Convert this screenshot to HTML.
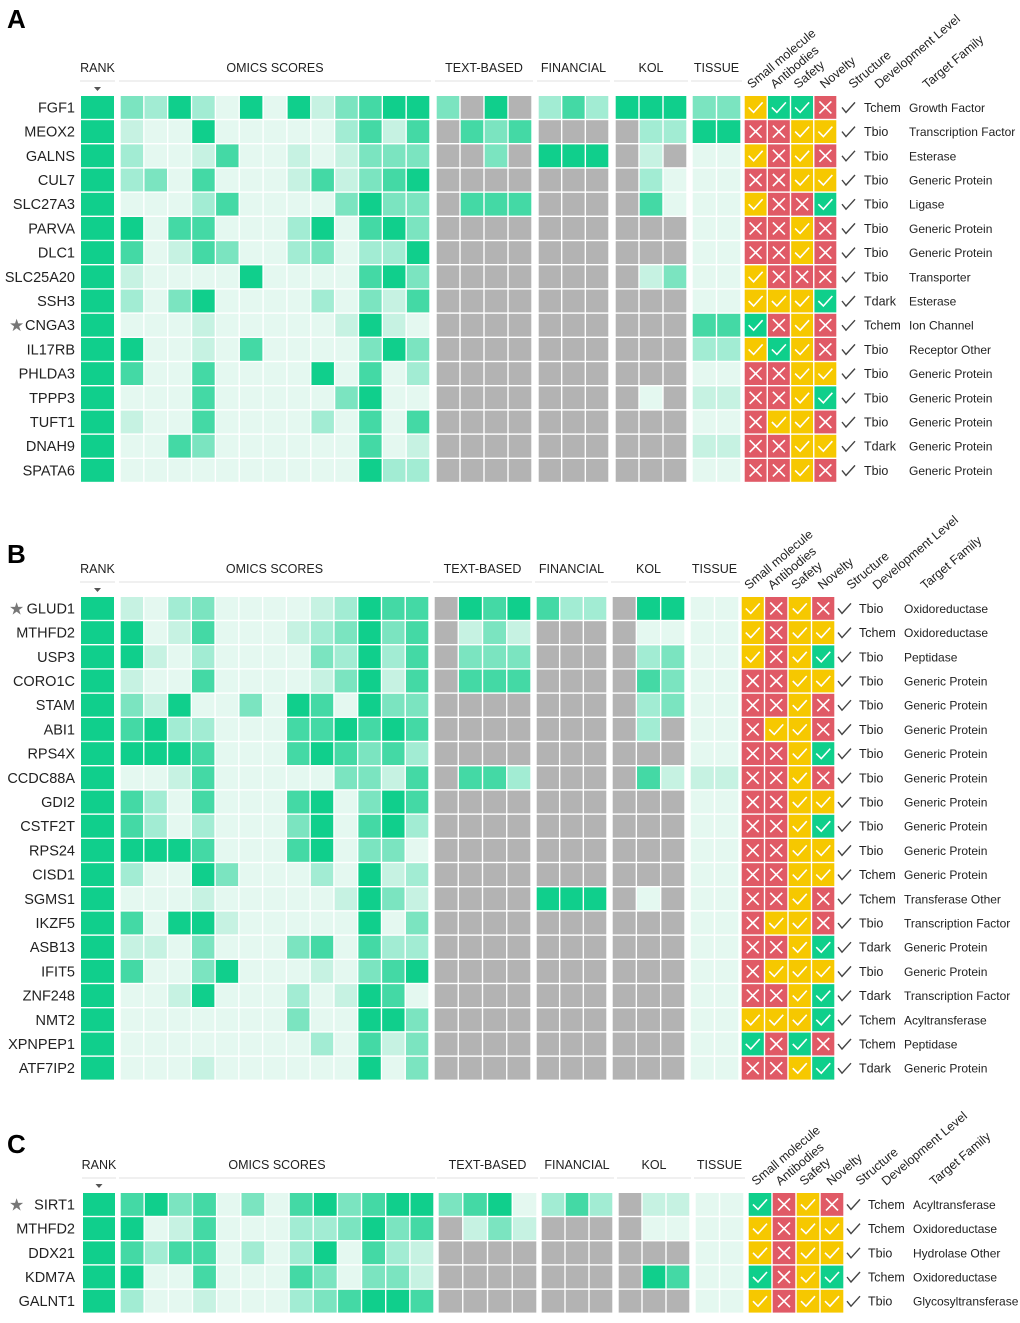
<!DOCTYPE html>
<html><head><meta charset="utf-8">
<style>
html,body{margin:0;padding:0;background:#fff;}
svg{display:block;font-family:"Liberation Sans",sans-serif;}
</style></head>
<body>
<svg id="chart" width="1020" height="1323" viewBox="0 0 1020 1323" xmlns="http://www.w3.org/2000/svg"></svg>
<script>
// ---------- Panel A data ----------
const genesA = ["FGF1","MEOX2","GALNS","CUL7","SLC27A3","PARVA","DLC1","SLC25A20","SSH3","CNGA3","IL17RB","PHLDA3","TPPP3","TUFT1","DNAH9","SPATA6"];
const starA = [9];
const rankA = [5,5,5,5,5,5,5,5,5,5,5,5,5,5,5,5];
const omicsA = [
[3,2,5,2,0,5,0,5,1,3,4,5,5],[1,0,0,5,0,0,0,0,0,2,4,1,4],[2,0,0,1,4,0,0,1,0,1,3,3,3],[2,3,0,4,0,0,0,1,4,1,3,4,5],
[0,0,0,2,4,0,0,0,0,3,5,3,3],[5,0,4,4,0,0,0,2,5,0,4,5,3],[4,0,1,4,3,0,0,2,3,0,2,2,5],[1,0,0,0,0,5,0,0,0,0,4,5,3],
[2,0,3,5,0,0,0,0,2,0,3,1,4],[0,0,0,1,0,0,0,0,0,1,5,1,0],[5,0,0,1,0,4,0,0,0,0,3,5,3],[4,0,0,4,0,0,0,0,5,0,4,0,2],
[0,0,0,4,0,0,0,0,0,3,5,0,0],[1,0,0,4,0,0,0,0,2,0,4,0,4],[0,0,4,3,0,0,0,0,0,0,4,0,1],[0,0,0,0,0,0,0,0,0,0,5,2,2]];
const textA = [[3,-1,5,-1],[-1,4,3,4],[-1,-1,3,-1],[-1,-1,-1,-1],[-1,4,4,4],[-1,-1,-1,-1],[-1,-1,-1,-1],[-1,-1,-1,-1],[-1,-1,-1,-1],[-1,-1,-1,-1],[-1,-1,-1,-1],[-1,-1,-1,-1],[-1,-1,-1,-1],[-1,-1,-1,-1],[-1,-1,-1,-1],[-1,-1,-1,-1]];
const finA = [[2,4,2],[-1,-1,-1],[5,5,5],[-1,-1,-1],[-1,-1,-1],[-1,-1,-1],[-1,-1,-1],[-1,-1,-1],[-1,-1,-1],[-1,-1,-1],[-1,-1,-1],[-1,-1,-1],[-1,-1,-1],[-1,-1,-1],[-1,-1,-1],[-1,-1,-1]];
const kolA = [[5,5,5],[-1,2,2],[-1,1,-1],[-1,2,0],[-1,4,0],[-1,-1,-1],[-1,-1,-1],[-1,1,3],[-1,-1,-1],[-1,-1,-1],[-1,-1,-1],[-1,-1,-1],[-1,0,-1],[-1,-1,-1],[-1,-1,-1],[-1,-1,-1]];
const tisA = [[3,3],[5,5],[0,0],[0,0],[0,0],[0,0],[0,0],[0,0],[0,0],[4,4],[2,2],[0,0],[1,1],[0,0],[1,1],[0,0]];
const flagsA = ["yggr","rryy","yryr","rryy","yrrg","rryr","rryr","yrrr","yyyg","gryr","ygyr","rryy","rryg","ryyr","rryy","rryr"];
const tierA = ["Tchem","Tbio","Tbio","Tbio","Tbio","Tbio","Tbio","Tbio","Tdark","Tchem","Tbio","Tbio","Tbio","Tbio","Tdark","Tbio"];
const famA = ["Growth Factor","Transcription Factor","Esterase","Generic Protein","Ligase","Generic Protein","Generic Protein","Transporter","Esterase","Ion Channel","Receptor Other","Generic Protein","Generic Protein","Generic Protein","Generic Protein","Generic Protein"];

// ---------- Panel B data ----------
const genesB = ["GLUD1","MTHFD2","USP3","CORO1C","STAM","ABI1","RPS4X","CCDC88A","GDI2","CSTF2T","RPS24","CISD1","SGMS1","IKZF5","ASB13","IFIT5","ZNF248","NMT2","XPNPEP1","ATF7IP2"];
const starB = [0];
const rankB = [5,5,5,5,5,5,5,5,5,5,5,5,5,5,5,5,5,5,5,5];
const omicsB = [
[1,0,2,3,0,0,0,0,1,2,5,4,4],[5,0,1,4,0,0,0,1,2,3,5,3,4],[5,1,0,2,0,0,0,0,3,2,5,2,4],[1,0,0,4,0,0,0,0,1,3,5,1,4],
[3,1,5,0,0,3,0,5,4,0,5,3,3],[4,5,2,2,0,0,0,4,4,5,4,5,4],[5,5,5,4,0,0,0,4,5,4,3,4,2],[0,0,1,4,0,0,0,0,0,3,3,1,4],
[4,2,0,4,0,0,0,4,5,0,3,5,4],[4,2,0,2,0,0,0,3,5,0,4,5,2],[5,5,5,4,0,0,0,4,5,0,3,3,0],[2,0,0,5,3,0,0,0,2,0,5,1,2],
[0,0,0,1,0,0,0,0,0,1,5,3,1],[4,0,5,5,1,0,0,0,0,0,5,0,3],[1,1,0,3,0,0,0,3,4,0,4,2,2],[4,0,0,3,5,0,0,0,1,0,3,4,5],
[0,0,1,5,0,0,0,2,0,1,5,4,0],[0,0,0,0,0,0,0,3,0,0,5,5,3],[0,0,0,0,0,0,0,0,2,0,4,1,3],[0,0,0,1,0,0,0,0,0,0,5,0,3]];
const G4 = [-1,-1,-1,-1], G3 = [-1,-1,-1];
const textB = [[-1,5,4,5],[-1,1,3,1],[-1,3,3,3],[-1,4,4,4],G4,G4,G4,[-1,4,4,2],G4,G4,G4,G4,G4,G4,G4,G4,G4,G4,G4,G4];
const finB = [[4,2,2],G3,G3,G3,G3,G3,G3,G3,G3,G3,G3,G3,[5,5,5],G3,G3,G3,G3,G3,G3,G3];
const kolB = [[-1,5,5],[-1,0,0],[-1,2,3],[-1,4,3],[-1,2,3],[-1,2,-1],G3,[-1,4,1],G3,G3,G3,G3,[-1,0,-1],G3,G3,G3,G3,G3,G3,G3];
const tisB = [[0,0],[0,0],[0,0],[0,0],[0,0],[0,0],[0,0],[1,1],[0,0],[0,0],[0,0],[0,0],[0,0],[0,0],[0,0],[0,0],[0,0],[0,0],[0,0],[0,0]];
const flagsB = ["yryr","yryy","yryg","rryy","rryr","ryyr","rryg","rryr","rryy","rryg","rryy","rryy","rryr","ryyr","rryg","ryyy","rryg","yyyg","grgr","rryg"];
const tierB = ["Tbio","Tchem","Tbio","Tbio","Tbio","Tbio","Tbio","Tbio","Tbio","Tbio","Tbio","Tchem","Tchem","Tbio","Tdark","Tbio","Tdark","Tchem","Tchem","Tdark"];
const famB = ["Oxidoreductase","Oxidoreductase","Peptidase","Generic Protein","Generic Protein","Generic Protein","Generic Protein","Generic Protein","Generic Protein","Generic Protein","Generic Protein","Generic Protein","Transferase Other","Transcription Factor","Generic Protein","Generic Protein","Transcription Factor","Acyltransferase","Peptidase","Generic Protein"];

// ---------- Panel C data ----------
const genesC = ["SIRT1","MTHFD2","DDX21","KDM7A","GALNT1"];
const starC = [0];
const rankC = [5,5,5,5,5];
const omicsC = [[4,5,3,4,0,3,0,4,5,3,4,5,5],[5,0,1,4,0,0,0,2,2,3,5,3,4],[4,2,4,4,0,2,0,2,5,0,4,2,1],[5,0,0,4,0,0,0,4,3,0,3,3,1],[2,0,0,1,0,0,0,2,3,4,5,5,4]];
const textC = [[3,4,5,0],[-1,1,3,1],G4,G4,G4];
const finC = [[2,4,2],G3,G3,G3,G3];
const kolC = [[-1,1,1],[-1,0,0],G3,[-1,5,4],G3];
const tisC = [[0,0],[0,0],[0,0],[0,0],[0,0]];
const flagsC = ["gryr","yryy","yryy","gryg","yryy"];
const tierC = ["Tchem","Tchem","Tbio","Tchem","Tbio"];
const famC = ["Acyltransferase","Oxidoreductase","Hydrolase Other","Oxidoreductase","Glycosyltransferase"];

const headerLabels = ["RANK","OMICS SCORES","TEXT-BASED","FINANCIAL","KOL","TISSUE"];
const rotLabels = ["Small molecule","Antibodies","Safety","Novelty","Structure","Development Level","Target Family"];

// ---------- rendering ----------
const NS = "http://www.w3.org/2000/svg";
const svg = document.getElementById("chart");
const LEVEL = ["#e4f8f0","#c6f2e2","#a2ecd3","#7be4c0","#44d9a5","#10cf8c"];
const GRAY = "#b3b3b3";
const FLAGC = {y:"#f6c800", r:"#e05a66", g:"#0fcf8b"};
function mk(tag, attrs, parent){ const e=document.createElementNS(NS,tag); for(const k in attrs) e.setAttribute(k,attrs[k]); (parent||svg).appendChild(e); return e; }
function colorOf(v){ return v<0 ? GRAY : LEVEL[v]; }

const layouts = [
 {letter:"A", top:96, pitch:24.2, rank:[81,114], groups:[[120,430],[436,532],[538,609],[615,687],[692,741]], flags:[744,837], dev:845, tier:864, fam:909,
  genes:genesA, star:starA, rank_v:rankA, data:[omicsA,textA,finA,kolA,tisA], flagsv:flagsA, tiers:tierA, fams:famA},
 {letter:"B", top:597, pitch:24.2, rank:[81,114], groups:[[120,429],[434,531],[536,607],[612,685],[690,739]], flags:[741,835], dev:841, tier:859, fam:904,
  genes:genesB, star:starB, rank_v:rankB, data:[omicsB,textB,finB,kolB,tisB], flagsv:flagsB, tiers:tierB, fams:famB},
 {letter:"C", top:1193, pitch:24.2, rank:[83,115], groups:[[120,434],[438,537],[541,613],[618,690],[695,744]], flags:[748,844], dev:850, tier:868, fam:913,
  genes:genesC, star:starC, rank_v:rankC, data:[omicsC,textC,finC,kolC,tisC], flagsv:flagsC, tiers:tierC, fams:famC}
];
const groupNames = ["omics","text","financial","kol","tissue"];

layouts.forEach(L=>{
  const g = mk("g",{});
  
  
  const hy = L.top-24;
  const letter = mk("text",{x:7,y:hy-(L.letter==="A"?44:(L.letter==="B"?10:16)),"font-size":26,"font-weight":"bold",fill:"#000"},g);
  letter.textContent = L.letter;
  
  
  const spans = [L.rank].concat(L.groups);
  spans.forEach((s,i)=>{
    const t = mk("text",{x:(s[0]+s[1])/2,y:hy,"font-size":12.5,"text-anchor":"middle",fill:"#222"},g);
    t.textContent = headerLabels[i];
    
    
    const ln = mk("line",{x1:s[0]-1,x2:s[1]+1,y1:hy+9,y2:hy+9,stroke:"#e6e6e6","stroke-width":1.2},g);
    
    
  });
  const arrow = mk("path",{d:`M${(L.rank[0]+L.rank[1])/2-3.5},${hy+15} h7 l-3.5,4 z`,fill:"#555"},g);
  
  
  const fw = (L.flags[1]-L.flags[0])/4;
  const rx = [L.flags[0]+fw*0.5, L.flags[0]+fw*1.5, L.flags[0]+fw*2.5, L.flags[0]+fw*3.5+3, L.flags[1]+20, L.flags[1]+46, L.flags[1]+94];
  rotLabels.forEach((s,i)=>{
    const x=rx[i]-4, y=L.top-7;
    const t = mk("text",{x:x,y:y,"font-size":12.5,fill:"#222",transform:`rotate(-40 ${x} ${y})`},g);
    t.textContent = s;
    
    
  });
  L.genes.forEach((gene,r)=>{
    const y = L.top + r*L.pitch;
    const h = L.pitch-1.4;
    const cy = y + h/2;
    const lab = mk("text",{x:75,y:cy+5,"font-size":14.5,"text-anchor":"end",fill:"#222"},g);
    lab.textContent = gene;
    
    
    if(L.star.indexOf(r)>=0){
      const st = mk("text",{x:9,y:cy+6,"font-size":17,fill:"#777","font-family":"DejaVu Sans"},g);
      st.textContent = "★";
      
      
    }
    const rc = mk("rect",{x:L.rank[0],y:y,width:L.rank[1]-L.rank[0],height:h,fill:colorOf(L.rank_v[r])},g);
    
    
    L.groups.forEach((s,gi)=>{
      const vals = L.data[gi][r];
      const w = (s[1]-s[0])/vals.length;
      vals.forEach((v,c)=>{
        const cell = mk("rect",{x:s[0]+c*w+0.7,y:y,width:w-1.4,height:h,fill:colorOf(v)},g);
        
        
      });
    });
    const fl = L.flagsv[r];
    for(let c=0;c<4;c++){
      const k = fl[c]; const x0 = L.flags[0]+c*fw+0.7; const ww = fw-1.4;
      const fr = mk("rect",{x:x0,y:y,width:ww,height:h,fill:FLAGC[k]},g);
      
      
      const mx = x0+ww/2;
      const d = k==="r" ? `M${mx-6},${cy-6} L${mx+6},${cy+6} M${mx+6},${cy-6} L${mx-6},${cy+6}` : `M${mx-7},${cy} L${mx-2},${cy+5} L${mx+7},${cy-5}`;
      const ic = mk("path",{d:d,stroke:"#fff","stroke-width":1.6,fill:"none"},g);
      
      
    }
    const dc = mk("path",{d:`M${L.dev-3},${cy} L${L.dev+1},${cy+5} L${L.dev+10},${cy-5}`,stroke:"#444","stroke-width":1.4,fill:"none"},g);
    
    
    const tt = mk("text",{x:L.tier,y:cy+4.5,"font-size":12.5,fill:"#222"},g);
    tt.textContent = L.tiers[r];
    
    
    const ft = mk("text",{x:L.fam,y:cy+4.5,"font-size":12,fill:"#222"},g);
    ft.textContent = L.fams[r];
    
    
  });
});
</script>
</body></html>
